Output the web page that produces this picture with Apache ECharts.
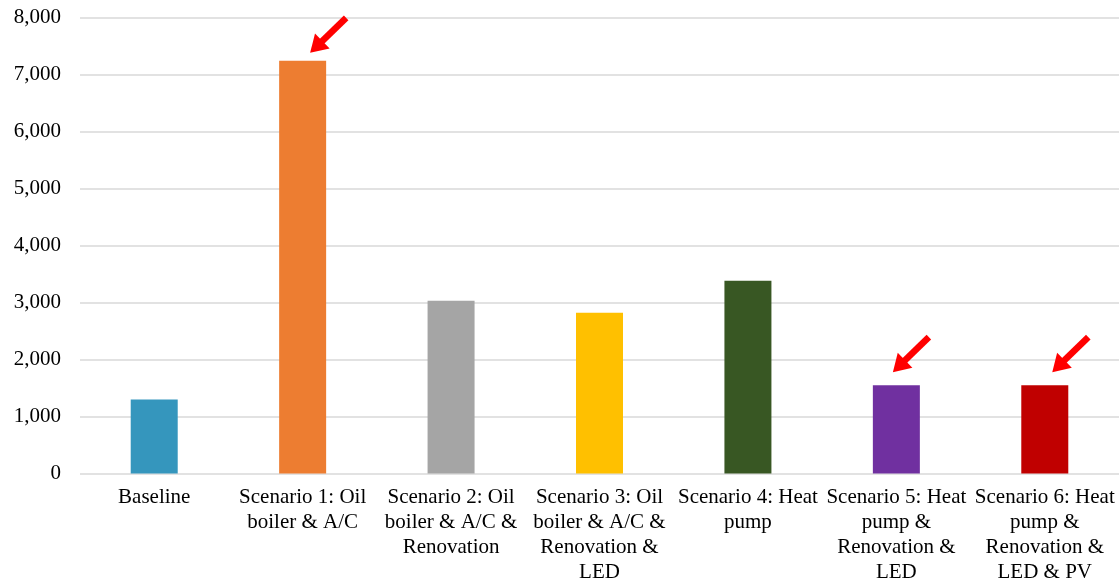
<!DOCTYPE html>
<html>
<head>
<meta charset="utf-8">
<script src="https://cdn.jsdelivr.net/npm/echarts@6/dist/echarts.min.js"></script>
<style>
  html, body { margin: 0; padding: 0; background: #fff; }
  #chart { width: 1119px; height: 583px; }
</style>
</head>
<body>
<div id="chart"></div>
<script>
// Scenario names (line breaks where the axis labels wrap)
const categories = [
  'Baseline',
  'Scenario 1: Oil\nboiler & A/C',
  'Scenario 2: Oil\nboiler & A/C &\nRenovation',
  'Scenario 3: Oil\nboiler & A/C &\nRenovation &\nLED',
  'Scenario 4: Heat\npump',
  'Scenario 5: Heat\npump &\nRenovation &\nLED',
  'Scenario 6: Heat\npump &\nRenovation &\nLED & PV'
];
const values = [1300, 7240, 3030, 2820, 3380, 1550, 1550];
const barColors = ['#3596BD', '#ED7D31', '#A5A5A5', '#FFC000', '#385723', '#7030A0', '#C00000'];
// Scenarios highlighted with a red arrow
const highlighted = [1, 5, 6];

const FONT = '"Liberation Serif", "Times New Roman", serif';
const chart = echarts.init(document.getElementById('chart'));

chart.setOption({
  animation: false,
  backgroundColor: '#fff',
  grid: {
    left: 80, right: 0, top: 17.5, bottom: 109.5,
    containLabel: false,
    outerBoundsMode: 'none'
  },
  xAxis: {
    type: 'category',
    data: categories,
    axisLine: { show: false },
    axisTick: { show: false },
    axisLabel: {
      interval: 0,
      margin: 11,
      color: '#000',
      fontFamily: FONT,
      fontSize: 21,
      lineHeight: 25,
      align: 'center'
    }
  },
  yAxis: {
    type: 'value',
    min: 0,
    max: 8000,
    interval: 1000,
    axisLine: { show: false },
    axisTick: { show: false },
    axisLabel: {
      margin: 19,
      color: '#000',
      fontFamily: FONT,
      fontSize: 21,
      formatter: v => v.toLocaleString('en-US')
    },
    splitLine: { lineStyle: { color: '#d9d9d9', width: 1.5 } }
  },
  series: [{
    type: 'bar',
    barWidth: 47,
    data: values.map((v, i) => ({ value: v, itemStyle: { color: barColors[i] } }))
  }]
});

// Red arrows pointing down-left at the highlighted bars.
// Tip placement relative to the top centre of each bar, in pixels.
const tipOffsets = { 1: [7.5, -8], 5: [-3.5, -13], 6: [7.5, -13] };
function drawArrows() {
  const elements = [];
  highlighted.forEach(i => {
    const top = chart.convertToPixel({ gridIndex: 0 }, [i, values[i]]);
    const off = tipOffsets[i];
    const tip = [top[0] + off[0], top[1] + off[1]];
    const tail = [tip[0] + 36, tip[1] - 35];
    const dx = tip[0] - tail[0], dy = tip[1] - tail[1];
    const len = Math.sqrt(dx * dx + dy * dy);
    const ux = dx / len, uy = dy / len;
    const px = -uy, py = ux;
    const headLen = 17, headHalf = 10.5;
    const base = [tip[0] - ux * headLen, tip[1] - uy * headLen];
    elements.push({
      type: 'line',
      shape: { x1: tail[0], y1: tail[1], x2: base[0] + ux * 2, y2: base[1] + uy * 2 },
      style: { stroke: '#FF0000', lineWidth: 6.5 }
    });
    elements.push({
      type: 'polygon',
      shape: { points: [
        tip,
        [base[0] + px * headHalf, base[1] + py * headHalf],
        [base[0] - px * headHalf, base[1] - py * headHalf]
      ] },
      style: { fill: '#FF0000' }
    });
  });
  chart.setOption({ graphic: elements });
}
drawArrows();
</script>
</body>
</html>
